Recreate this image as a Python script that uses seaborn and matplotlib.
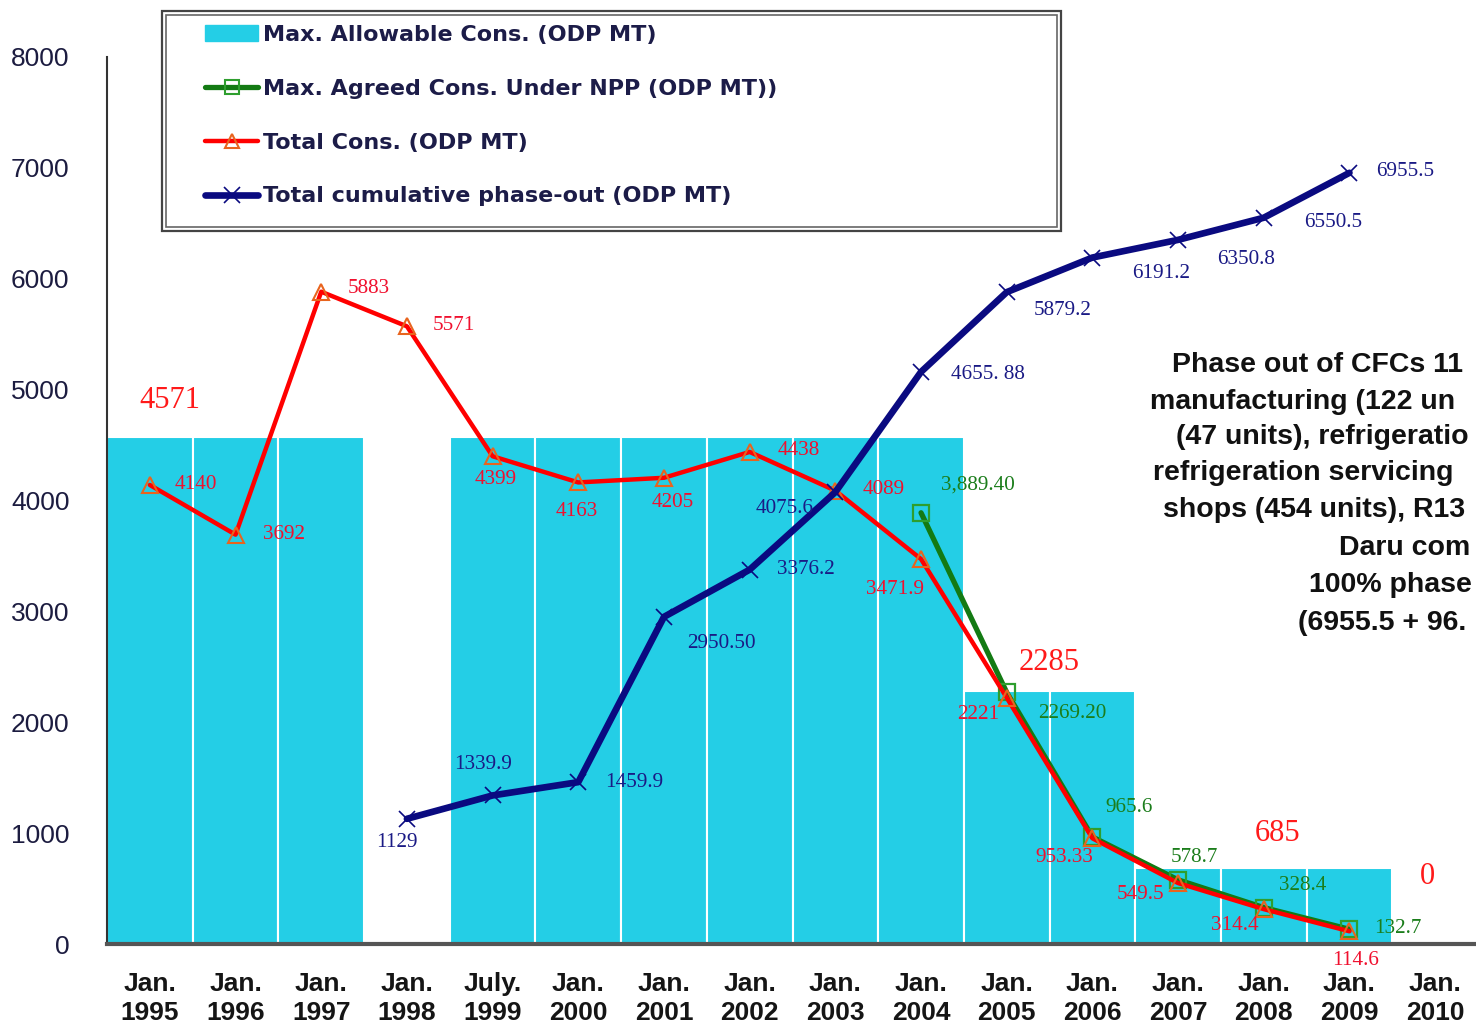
import matplotlib
matplotlib.use('Agg')
import matplotlib.pyplot as plt
from matplotlib.patches import Patch, Rectangle
from matplotlib.lines import Line2D
import numpy as np
import seaborn as sns

# ---- data ----
periods = ['Jan.\n1995', 'Jan.\n1996', 'Jan.\n1997', 'Jan.\n1998', 'July.\n1999',
           'Jan.\n2000', 'Jan.\n2001', 'Jan.\n2002', 'Jan.\n2003', 'Jan.\n2004',
           'Jan.\n2005', 'Jan.\n2006', 'Jan.\n2007', 'Jan.\n2008', 'Jan.\n2009',
           'Jan.\n2010']
max_allowable = [4571, 4571, 4571, 0, 4571, 4571, 4571, 4571, 4571, 4571,
                 2285, 2285, 685, 685, 685, 0]

total_cons = [4140, 3692, 5883, 5571, 4399, 4163, 4205, 4438, 4089, 3471.9,
              2221, 953.33, 549.5, 314.4, 114.6]
total_cons_labels = ['4140', '3692', '5883', '5571', '4399', '4163', '4205', '4438',
                     '4089', '3471.9', '2221', '953.33', '549.5', '314.4', '114.6']

npp_start = 9
npp_agreed = [3889.4, 2269.2, 965.6, 578.7, 328.4, 132.7]
npp_labels = ['3,889.40', '2269.20', '965.6', '578.7', '328.4', '132.7']

phaseout_start = 3
phaseout = [1129, 1339.9, 1459.9, 2950.5, 3376.2, 4075.6, 5160, 5879.2,
            6191.2, 6350.8, 6550.5, 6955.5]
phaseout_labels = ['1129', '1339.9', '1459.9', '2950.50', '3376.2', '4075.6',
                   '4655. 88', '5879.2', '6191.2', '6350.8', '6550.5', '6955.5']

bar_value_labels = ['4571', '2285', '685', '0']
bar_value_at = [0, 10.5, 13, 15]
bar_value_y = [4571, 2285, 685, 0]

legend_labels = ['Max. Allowable Cons. (ODP MT)',
                 'Max. Agreed Cons. Under NPP (ODP MT))',
                 'Total Cons. (ODP MT)',
                 'Total cumulative phase-out (ODP MT)']

note_lines = ['Phase out of CFCs 11', 'manufacturing (122 un', '(47 units), refrigeratio',
              'refrigeration servicing', 'shops (454 units), R13', 'Daru com',
              '100% phase', '(6955.5 + 96.']

# ---- label offsets (pixels) ----
red_off = [(46, 0), (48, 0), (48, 3), (47, 1), (3, -23), (-2, -29), (9, -25), (49, 1),
           (48, 1), (-26, -30), (-29, -17), (-28, -19), (-38, -11), (-29, -16), (6, -29)]
green_off = [(57, 28), (66, -21), (37, 29), (16, 22), (39, 22), (48, 1)]
navy_off = [(-10, -24), (-10, 31), (56, 0), (57, -27), (56, 0), (-51, -16), (67, -3),
            (56, -18), (69, -16), (68, -20), (69, -5), (56, 1)]
bar_off = [(20, 37), (0, 28), (14, 35), (-8, 67)]
note_xy = [(1172, 365), (1150, 402), (1176, 437), (1153, 473), (1163, 510),
           (1339, 548), (1309, 585), (1298, 623)]

W, H = 1476, 1030
CYAN = '#24CEE6'
RED = '#FF0000'
GREEN = '#137A13'
NAVY = '#0A0A80'

sns.set_style('white')
plt.rcParams['font.family'] = ['Liberation Sans', 'DejaVu Sans']

fig = plt.figure(figsize=(W / 100, H / 100), dpi=100)
ax = fig.add_axes([107 / W, 86 / H, 1371 / W, 887 / H])

sns.barplot(x=periods, y=max_allowable, color=CYAN, saturation=1, width=1.0,
            edgecolor='white', linewidth=1.5, ax=ax, zorder=1)

x_cons = np.arange(len(total_cons))
x_npp = np.arange(npp_start, npp_start + len(npp_agreed))
x_ph = np.arange(phaseout_start, phaseout_start + len(phaseout))

sns.lineplot(x=x_npp, y=npp_agreed, color=GREEN, lw=3.8, marker='s', markersize=11,
             markerfacecolor='none', markeredgecolor='#2E9E2E', markeredgewidth=1.6,
             ax=ax, zorder=3, legend=False)
sns.lineplot(x=x_cons, y=total_cons, color=RED, lw=3.2, marker='^', markersize=12,
             markerfacecolor='none', markeredgecolor='#E8641E', markeredgewidth=1.5,
             ax=ax, zorder=4, legend=False)
sns.lineplot(x=x_ph, y=phaseout, color=NAVY, lw=4.8, marker='x', markersize=12,
             markeredgecolor=NAVY, markeredgewidth=1.2, ax=ax, zorder=5, legend=False)

lab_font = dict(family=['Liberation Serif', 'DejaVu Serif'], fontsize=15.2,
                ha='center', va='center', textcoords='offset pixels', zorder=6)
for x, y, t, o in zip(x_cons, total_cons, total_cons_labels, red_off):
    ax.annotate(t, (x, y), xytext=o, color='#F0102E', **lab_font)
for x, y, t, o in zip(x_npp, npp_agreed, npp_labels, green_off):
    ax.annotate(t, (x, y), xytext=o, color='#1B7D1B', **lab_font)
for x, y, t, o in zip(x_ph, phaseout, phaseout_labels, navy_off):
    ax.annotate(t, (x, y), xytext=o, color='#1A1A85', **lab_font)
for x, y, t, o in zip(bar_value_at, bar_value_y, bar_value_labels, bar_off):
    ax.annotate(t, (x, y), xytext=o, color='#FF1A1A', fontsize=22,
                family=['Liberation Serif', 'DejaVu Serif'], ha='center', va='center',
                textcoords='offset pixels', zorder=6)

# axes styling
ax.set_xlim(-0.5, len(periods) - 0.5)
ax.set_ylim(0, 8000)
ax.set_yticks(range(0, 8001, 1000))
ax.set_xlabel('')
ax.set_ylabel('')
ax.set_xticks(np.arange(-0.5, len(periods), 1), minor=True)
ax.tick_params(axis='x', which='major', length=0, pad=20, labelsize=19,
               labelcolor='#151515')
ax.tick_params(axis='x', which='minor', length=8, width=1.5, color='#333333',
               direction='out')
ax.tick_params(axis='y', length=9, width=1.5, color='#333333', pad=18,
               labelsize=19, labelcolor='#1C1C40')
for lbl in ax.get_xticklabels():
    lbl.set_fontweight('bold')
    lbl.set_linespacing(1.3)
ax.spines['top'].set_visible(False)
ax.spines['right'].set_visible(False)
ax.spines['bottom'].set_color('#555555')
ax.spines['bottom'].set_linewidth(3)
ax.spines['left'].set_color('#333333')
ax.spines['left'].set_linewidth(1.5)
ax.grid(False)

# legend (frame drawn separately as a double box)
handles = [Patch(facecolor=CYAN, edgecolor=CYAN),
           Line2D([], [], color=GREEN, lw=3.8, marker='s', markersize=10,
                  markerfacecolor='none', markeredgecolor='#2E9E2E', markeredgewidth=1.5),
           Line2D([], [], color=RED, lw=3.2, marker='^', markersize=10,
                  markerfacecolor='none', markeredgecolor='#E8641E', markeredgewidth=1.5),
           Line2D([], [], color=NAVY, lw=4.8, marker='x', markersize=11,
                  markeredgecolor=NAVY, markeredgewidth=1.2)]
leg = fig.legend(handles, legend_labels, loc='upper left',
                 bbox_to_anchor=(205 / W, 1 - 25 / H), frameon=False,
                 borderpad=0, borderaxespad=0, labelspacing=1.52,
                 handlelength=2.4, handletextpad=0.22,
                 prop=dict(family=['DejaVu Sans'], weight='bold', size=16))
for t in leg.get_texts():
    t.set_color('#1C1C48')

fig.add_artist(Rectangle((162 / W, 1 - 231 / H), 899 / W, 220 / H,
                         transform=fig.transFigure, fill=False,
                         edgecolor='#444444', lw=1.6))
fig.add_artist(Rectangle((166 / W, 1 - 227 / H), 891 / W, 212 / H,
                         transform=fig.transFigure, fill=False,
                         edgecolor='#666666', lw=1.2))

for (px, py), line in zip(note_xy, note_lines):
    fig.text(px / W, 1 - py / H, line, ha='left', va='center', fontsize=20.5,
             fontweight='bold', color='#111111')

fig.savefig('out.png', dpi=100, facecolor='white')
